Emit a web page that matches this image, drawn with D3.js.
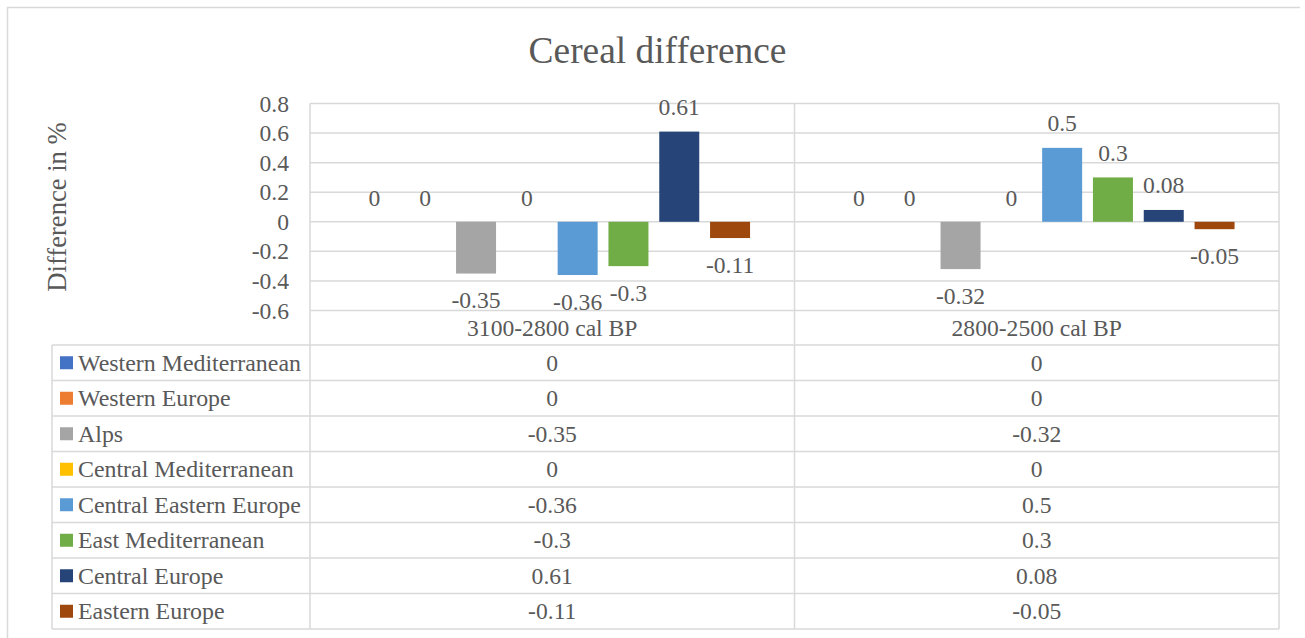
<!DOCTYPE html>
<html>
<head>
<meta charset="utf-8">
<script src="https://cdn.jsdelivr.net/npm/d3@7"></script>
<style>
  html, body { margin: 0; padding: 0; background: #fff; }
  svg { display: block; }
  svg text { font-family: "Liberation Serif", "Times New Roman", serif !important; fill: #595959; }
</style>
</head>
<body>
<svg id="chart" width="1305" height="638"></svg>
<script>
// ---- data ----
const categories = ["3100-2800 cal BP", "2800-2500 cal BP"];
const seriesNames = ["Western Mediterranean", "Western Europe", "Alps", "Central Mediterranean",
                     "Central Eastern Europe", "East Mediterranean", "Central Europe", "Eastern Europe"];
const westernMediterranean = [0, 0];
const westernEurope = [0, 0];
const alps = [-0.35, -0.32];
const centralMediterranean = [0, 0];
const centralEasternEurope = [-0.36, 0.5];
const eastMediterranean = [-0.3, 0.3];
const centralEurope = [0.61, 0.08];
const easternEurope = [-0.11, -0.05];
const seriesColors = ["#4472C4", "#ED7D31", "#A5A5A5", "#FFC000", "#5B9BD5", "#70AD47", "#264478", "#9E480E"];
const yTicks = [-0.6, -0.4, -0.2, 0, 0.2, 0.4, 0.6, 0.8];
const chartTitle = "Cereal difference";
const yTitle = "Difference in %";

const seriesValues = [westernMediterranean, westernEurope, alps, centralMediterranean,
                      centralEasternEurope, eastMediterranean, centralEurope, easternEurope];
const series = seriesNames.map((name, i) => ({ name, color: seriesColors[i], values: seriesValues[i] }));

// ---- layout ----
const FONT = "'Liberation Serif','Times New Roman',serif";
const FS = "23.6px";
const FS_NAME = "23.9px";
const svg = d3.select("#chart");
const plotLeft = 310, plotRight = 1279, plotTop = 103.5, plotBottom = 310.5;
const tableLeft = 52, tableTop = 345, tableBottom = 629;
const rowH = (tableBottom - tableTop) / series.length;
const grid = "#D9D9D9";
const fmt = v => String(+v.toFixed(2));

const y = d3.scaleLinear().domain([-0.6, 0.8]).range([plotBottom, plotTop]);
const x0 = d3.scaleBand().domain(categories).range([plotLeft, plotRight]).padding(0);
const x1 = d3.scaleBand().domain(seriesNames).range([0, x0.bandwidth()])
  .paddingInner(0.2126).paddingOuter(0.875);

// outer chart border (top & left visible)
svg.append("line").attr("x1", 7).attr("x2", 1300).attr("y1", 7.5).attr("y2", 7.5)
  .attr("stroke", grid).attr("stroke-width", 1.5);
svg.append("line").attr("x1", 7.5).attr("x2", 7.5).attr("y1", 7).attr("y2", 638)
  .attr("stroke", grid).attr("stroke-width", 1.5);

// title
svg.append("text").attr("x", 657.5).attr("y", 63.3).attr("text-anchor", "middle")
  .attr("font-family", FONT).style("font-size", "37.4px").text(chartTitle);

// y axis title
svg.append("text").attr("transform", "translate(66,207) rotate(-90)")
  .attr("font-family", FONT).attr("text-anchor", "middle").style("font-size", "26.6px").text(yTitle);

// gridlines
svg.append("g").selectAll("line").data(yTicks).join("line")
  .attr("x1", plotLeft).attr("x2", plotRight)
  .attr("y1", d => y(d)).attr("y2", d => y(d))
  .attr("stroke", grid).attr("stroke-width", 1.5);

// vertical lines (plot + table column dividers)
const vlines = [plotLeft, ...categories.map(c => x0(c) + x0.bandwidth())];
svg.append("g").selectAll("line").data(vlines).join("line")
  .attr("x1", d => d).attr("x2", d => d)
  .attr("y1", plotTop).attr("y2", tableBottom)
  .attr("stroke", grid).attr("stroke-width", 1.5);

// table horizontal lines
const rowLines = d3.range(series.length + 1).map(i => tableTop + i * rowH);
svg.append("g").selectAll("line").data(rowLines).join("line")
  .attr("x1", tableLeft).attr("x2", plotRight)
  .attr("y1", d => d).attr("y2", d => d)
  .attr("stroke", grid).attr("stroke-width", 1.5);
svg.append("line").attr("x1", tableLeft).attr("x2", tableLeft)
  .attr("y1", tableTop).attr("y2", tableBottom).attr("stroke", grid).attr("stroke-width", 1.5);

// y axis (labels only)
const yAxis = d3.axisLeft(y).tickValues(yTicks).tickSize(0).tickPadding(21)
  .tickFormat(d => String(+d.toFixed(1)));
const ga = svg.append("g").attr("transform", `translate(${plotLeft},0)`).call(yAxis)
  .attr("font-family", FONT).attr("font-size", null);
ga.select(".domain").remove();
ga.selectAll("text").attr("font-family", FONT).style("font-size", FS).attr("fill", "#595959");

// bars
const gCat = svg.append("g").selectAll("g").data(categories).join("g")
  .attr("transform", c => `translate(${x0(c)},0)`);
gCat.selectAll("rect").data((c, ci) => series.map(s => ({ s, v: s.values[ci] }))).join("rect")
  .attr("x", d => x1(d.s.name)).attr("width", x1.bandwidth())
  .attr("y", d => y(Math.max(0, d.v)))
  .attr("height", d => Math.abs(y(d.v) - y(0)))
  .attr("fill", d => d.s.color);

// data labels
gCat.selectAll("text.lbl").data((c, ci) => series.map(s => ({ s, v: s.values[ci] }))).join("text")
  .attr("class", "lbl")
  .attr("x", d => x1(d.s.name) + x1.bandwidth() / 2)
  .attr("y", d => d.v > 0 ? y(d.v) - 16.5 : d.v < 0 ? y(d.v) + 34.5 : y(0) - 15.8)
  .attr("text-anchor", "middle").attr("font-family", FONT).style("font-size", FS)
  .text(d => fmt(d.v));

// category labels
svg.append("g").selectAll("text").data(categories).join("text")
  .attr("x", c => x0(c) + x0.bandwidth() / 2)
  .attr("y", (plotBottom + tableTop) / 2 + 8)
  .attr("text-anchor", "middle").attr("font-family", FONT).style("font-size", FS).text(c => c);

// table rows: legend keys + names
const rows = svg.append("g").selectAll("g").data(series).join("g")
  .attr("transform", (s, i) => `translate(0,${tableTop + i * rowH + rowH / 2})`);
rows.append("rect").attr("x", 60).attr("y", -6.5).attr("width", 13).attr("height", 13)
  .attr("fill", s => s.color);
rows.append("text").attr("x", 78).attr("y", 7.8).attr("font-family", FONT).style("font-size", FS_NAME).text(s => s.name);
rows.selectAll("text.val").data(s => categories.map((c, ci) => ({ c, v: s.values[ci] }))).join("text")
  .attr("class", "val")
  .attr("x", d => x0(d.c) + x0.bandwidth() / 2).attr("y", 7.8)
  .attr("text-anchor", "middle").attr("font-family", FONT).style("font-size", FS).text(d => fmt(d.v));
</script>
</body>
</html>
